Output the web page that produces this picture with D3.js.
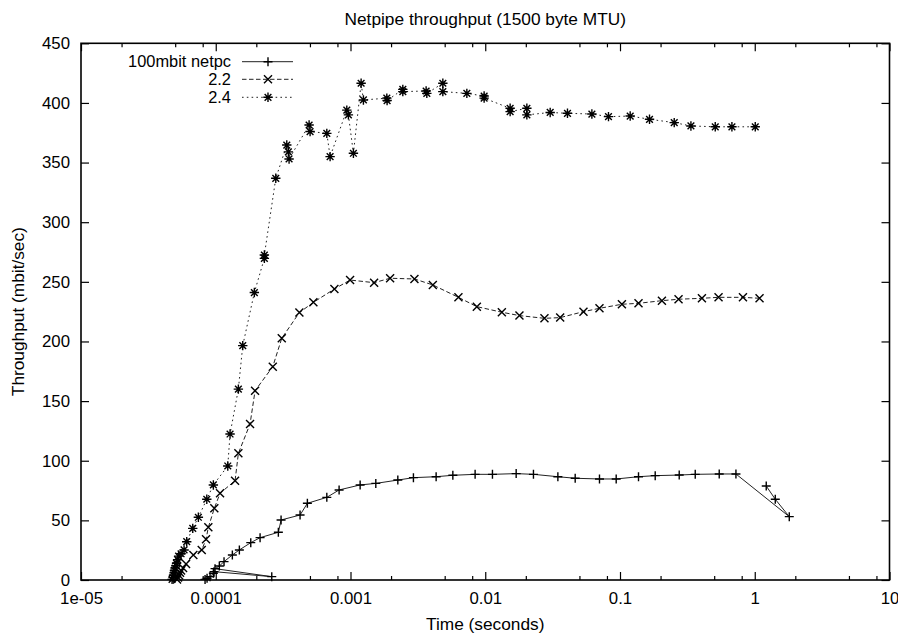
<!DOCTYPE html>
<html><head><meta charset="utf-8">
<script src="https://cdn.jsdelivr.net/npm/d3@7"></script>
<style>
body{margin:0;background:#fff}
text{font-family:"Liberation Sans",Arial,Helvetica,sans-serif;fill:#000}
</style>
</head><body>
<svg id="c" width="898" height="634"></svg>
<script>
const chartTitle = "Netpipe throughput (1500 byte MTU)";
const xLabel = "Time (seconds)";
const yLabel = "Throughput (mbit/sec)";
const seriesNames = ["100mbit netpc", "2.2", "2.4"];
const xTickValues = [1e-5, 1e-4, 1e-3, 1e-2, 1e-1, 1, 10];
const xTickLabels = ["1e-05", "0.0001", "0.001", "0.01", "0.1", "1", "10"];
const xMinorMultipliers = [2, 5, 8];
const yTickValues = [0, 50, 100, 150, 200, 250, 300, 350, 400, 450];

// 100mbit netpc
const time100 = [8.33e-5, 8.62e-5, 9.07e-5, 9.60e-5, 9.71e-5, 2.604e-4, 9.88e-5, 1.063e-4, 1.152e-4, 1.328e-4,
  1.497e-4, 1.819e-4, 2.133e-4, 2.915e-4, 3.053e-4, 4.224e-4, 4.786e-4, 6.671e-4, 8.23e-4, 1.179e-3,
  1.541e-3, 2.245e-3, 2.931e-3, 4.320e-3, 5.748e-3, 8.41e-3, 1.131e-2, 1.696e-2, 2.279e-2, 3.459e-2,
  4.650e-2, 7.043e-2, 9.37e-2, 0.1372, 0.1825, 0.2751, 0.3617, 0.5450, 0.7251, 1.804, 1.420, 1.217];
const thr100 = [0.5, 1.5, 2.8, 5.6, 7, 2.8, 9.5, 11.7, 15.4, 21,
  25.2, 31.3, 35.5, 40, 50.3, 54.5, 64.3, 69.3, 75.5, 79.7,
  81, 83.8, 85.8, 86.6, 87.8, 88.6, 88.6, 89.2, 88.6, 86.6,
  85.3, 84.7, 84.7, 86.6, 87.5, 88, 88.6, 88.9, 88.9, 53.1, 67.7, 78.8];

// 2.2
const time22 = [5.16e-5, 5.25e-5, 5.34e-5, 5.43e-5, 5.53e-5, 5.72e-5, 6.02e-5, 6.82e-5, 7.87e-5, 8.47e-5,
  8.81e-5, 9.76e-5, 1.076e-4, 1.391e-4, 1.472e-4, 1.797e-4, 1.958e-4, 2.650e-4, 3.090e-4, 4.175e-4,
  5.304e-4, 7.596e-4, 9.93e-4, 1.497e-3, 1.968e-3, 2.982e-3, 4.083e-3, 6.324e-3, 8.66e-3, 1.328e-2,
  1.794e-2, 2.751e-2, 3.597e-2, 5.358e-2, 7.043e-2, 0.1033, 0.1372, 0.2047, 0.2719, 0.4055,
  0.5386, 0.8174, 1.0854];
const thr22 = [0.5, 2, 4, 6, 8, 10, 13.4, 21, 25.2, 34.1,
  44.2, 60.1, 72.7, 83.3, 106.2, 130.8, 158.7, 178.9, 202.7, 224.2,
  232.8, 244, 251.5, 249.3, 253, 252.4, 247.4, 237, 229.2, 224.5,
  221.7, 219.4, 220, 225, 227.8, 231.2, 232, 234.2, 235.4, 236.2,
  237, 237, 236.2];

// 2.4
const time24 = [4.74e-5, 4.82e-5, 4.86e-5, 4.90e-5, 4.94e-5, 4.99e-5, 5.07e-5, 5.12e-5, 5.21e-5, 5.30e-5,
  5.53e-5, 5.82e-5, 6.09e-5, 6.75e-5, 7.43e-5, 8.58e-5, 9.60e-5, 1.228e-4, 1.277e-4, 1.472e-4,
  1.586e-4, 1.934e-4, 2.295e-4, 2.295e-4, 2.789e-4, 3.366e-4, 3.459e-4, 3.501e-4, 4.929e-4, 5.013e-4,
  6.671e-4, 7.057e-4, 9.388e-4, 9.647e-4, 1.051e-3, 1.199e-3, 1.247e-3, 1.860e-3, 1.869e-3, 2.445e-3,
  2.445e-3, 3.641e-3, 3.685e-3, 4.845e-3, 4.845e-3, 7.302e-3, 9.81e-3, 9.81e-3, 1.530e-2, 1.530e-2,
  2.036e-2, 2.036e-2, 3.033e-2, 4.076e-2, 6.185e-2, 8.214e-2, 0.1190, 0.1656, 0.2526, 0.3360,
  0.5091, 0.6770, 1.0086];
const thr24 = [0.5, 2, 4, 6, 8, 10, 12, 14, 17, 20,
  22, 25.2, 32.1, 43.3, 52.6, 67.7, 79.7, 95.6, 122.4, 160,
  196.5, 241, 269.7, 272.5, 336.8, 364.7, 359, 353, 381.5, 376,
  374.5, 355, 394, 390, 357.8, 416.5, 402.5, 404, 402, 411.4,
  409.5, 410, 408, 416.5, 409.5, 408, 405.8, 404, 395.5, 392.7,
  395.5, 390, 392, 391.3, 390.7, 388.5, 389, 386.3, 383.5, 380.7,
  380, 380, 380];

const pLeft = 81, pRight = 889.5, pTop = 43.3, pBottom = 580;
const fontSize = 17.3;
const tickFontSize = 16.8;
const legendFontSize = 16.4;

const svg = d3.select("#c");
const x = d3.scaleLog().domain([1e-5, 10]).range([pLeft, pRight]);
const y = d3.scaleLinear().domain([0, 450]).range([pBottom, pTop]);

const minorTicks = [];
for (let k = 0; k < xTickValues.length - 1; k++)
  for (const m of xMinorMultipliers) minorTicks.push(xTickValues[k] * m);

function styleAxis(g) {
  g.select(".domain").remove();
  g.selectAll(".tick line").attr("stroke", "#000").attr("stroke-width", 1.2);
  g.selectAll("text").attr("font-size", tickFontSize).attr("font-family", "Liberation Sans, Arial, sans-serif").attr("fill", "#000");
}

svg.append("g").attr("transform", `translate(0,${pBottom})`)
  .call(d3.axisBottom(x).tickValues(xTickValues).tickFormat((d, i) => xTickLabels[i]).tickSizeInner(-8).tickSizeOuter(0).tickPadding(12))
  .call(styleAxis);
svg.append("g").attr("transform", `translate(0,${pBottom})`)
  .call(d3.axisBottom(x).tickValues(minorTicks).tickFormat("").tickSizeInner(-4).tickSizeOuter(0))
  .call(styleAxis);
svg.append("g").attr("transform", `translate(0,${pTop})`)
  .call(d3.axisTop(x).tickValues(xTickValues).tickFormat("").tickSizeInner(-8).tickSizeOuter(0))
  .call(styleAxis);
svg.append("g").attr("transform", `translate(0,${pTop})`)
  .call(d3.axisTop(x).tickValues(minorTicks).tickFormat("").tickSizeInner(-4).tickSizeOuter(0))
  .call(styleAxis);
svg.append("g").attr("transform", `translate(${pLeft},0)`)
  .call(d3.axisLeft(y).tickValues(yTickValues).tickSizeInner(-8).tickSizeOuter(0).tickPadding(11))
  .call(styleAxis);
svg.append("g").attr("transform", `translate(${pRight},0)`)
  .call(d3.axisRight(y).tickValues(yTickValues).tickFormat("").tickSizeInner(-8).tickSizeOuter(0))
  .call(styleAxis);

svg.append("rect").attr("x", pLeft).attr("y", pTop).attr("width", pRight - pLeft).attr("height", pBottom - pTop)
  .attr("fill", "none").attr("stroke", "#000").attr("stroke-width", 1.6);

svg.append("text").attr("x", (pLeft + pRight) / 2).attr("y", 25).attr("text-anchor", "middle")
  .attr("font-size", fontSize).text(chartTitle);
svg.append("text").attr("x", (pLeft + pRight) / 2).attr("y", 630).attr("text-anchor", "middle")
  .attr("font-size", fontSize).text(xLabel);
svg.append("text").attr("transform", `translate(24,${(pTop + pBottom) / 2}) rotate(-90)`).attr("text-anchor", "middle")
  .attr("font-size", fontSize).text(yLabel);

const plusPath = s => `M${-s},0H${s}M0,${-s}V${s}`;
const crossPath = s => `M${-s},${-s}L${s},${s}M${-s},${s}L${s},${-s}`;
const starPath = s => plusPath(s + 0.5) + crossPath(s * 0.8);
const markerFns = [() => plusPath(4.5), () => crossPath(4), () => starPath(4.2)];
const dashes = [null, "4.5,2.5", "1.6,3.2"];

const series = [
  { t: time100, v: thr100 },
  { t: time22, v: thr22 },
  { t: time24, v: thr24 }
];

const line = d3.line().x(d => x(d[0])).y(d => y(d[1]));

series.forEach((s, i) => {
  const pts = s.t.map((t, j) => [t, s.v[j]]);
  svg.append("path").datum(pts).attr("d", line).attr("fill", "none")
    .attr("stroke", "#222").attr("stroke-width", 1).attr("stroke-dasharray", dashes[i]);
  svg.append("g").selectAll("path").data(pts).join("path")
    .attr("transform", d => `translate(${x(d[0])},${y(d[1])})`)
    .attr("d", markerFns[i]()).attr("fill", "none").attr("stroke", "#000").attr("stroke-width", 1.4);
});

const legY = [61.7, 79.3, 97.3];
seriesNames.forEach((name, i) => {
  const g = svg.append("g");
  g.append("text").attr("x", 231).attr("y", legY[i]).attr("dy", "0.35em").attr("text-anchor", "end")
    .attr("font-size", legendFontSize).text(name);
  g.append("line").attr("x1", 242).attr("x2", 293).attr("y1", legY[i]).attr("y2", legY[i])
    .attr("stroke", "#222").attr("stroke-width", 1).attr("stroke-dasharray", dashes[i]);
  g.append("path").attr("transform", `translate(268,${legY[i]})`).attr("d", markerFns[i]())
    .attr("fill", "none").attr("stroke", "#000").attr("stroke-width", 1.4);
});
</script>
</body></html>
